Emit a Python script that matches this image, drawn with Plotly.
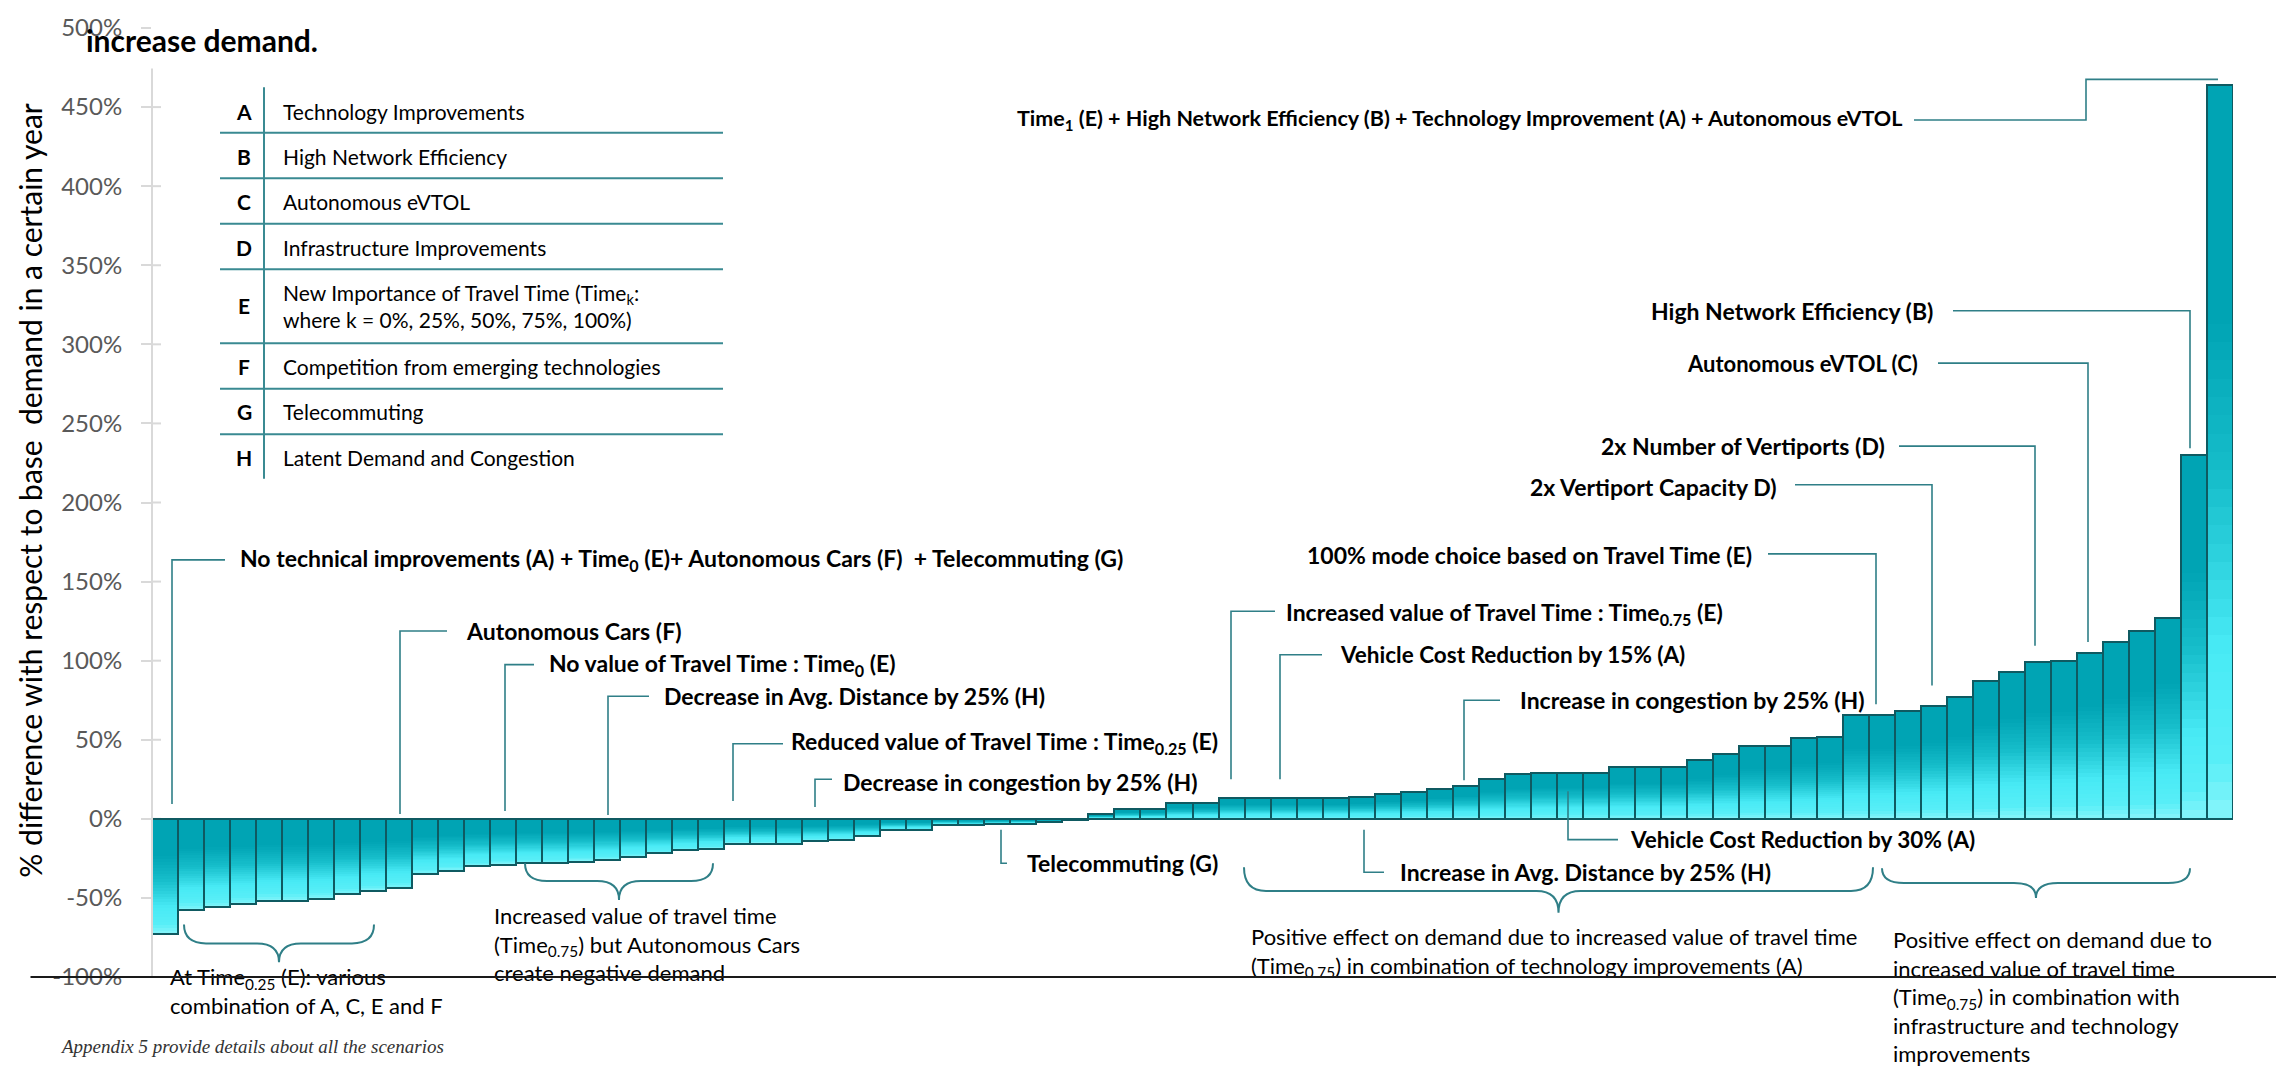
import plotly.graph_objects as go

# ---------------- data ----------------
scenario = list(range(1, 81))
values = [-72.8, -57.8, -55.7, -53.9, -51.7, -51.7, -50.7, -47.8, -45.7, -43.9,
          -34.9, -32.9, -29.9, -28.9, -27.9, -27.9, -27.0, -26.0, -23.9, -21.8,
          -20.0, -19.0, -15.6, -15.6, -15.8, -14.1, -13.1, -11.0, -6.9, -6.9,
          -3.7, -4.2, -3.4, -3.0, -2.1, -1.0, 3.1, 6.0, 6.0, 10.2,
          10.2, 13.1, 13.1, 13.1, 13.1, 13.1, 14.0, 16.0, 17.0, 18.9,
          20.9, 24.9, 28.1, 29.1, 29.1, 29.1, 32.8, 32.8, 32.8, 37.0,
          40.9, 46.3, 46.3, 50.9, 51.9, 65.8, 65.8, 68.0, 71.1, 77.1,
          87.0, 93.1, 98.9, 99.9, 104.9, 112.0, 118.8, 126.7, 230.0, 463.8]
tick_vals = [-100, -50, 0, 50, 100, 150, 200, 250, 300, 350, 400, 450, 500]
tick_text = ["-100%", "-50%", "0%", "50%", "100%", "150%", "200%", "250%",
             "300%", "350%", "400%", "450%", "500%"]
legend_keys = ["A", "B", "C", "D", "E", "F", "G", "H"]
legend_desc = ["Technology Improvements", "High Network Efficiency", "Autonomous eVTOL",
               "Infrastructure Improvements",
               "New Importance of Travel Time (Time<sub>k</sub>:<br>where k = 0%, 25%, 50%, 75%, 100%)",
               "Competition from emerging technologies", "Telecommuting",
               "Latent Demand and Congestion"]
y_title = "% difference with respect to base  demand in a certain year"

# ---------------- geometry helpers (pixels -> paper) ----------------
W, H = 2277, 1066
L, R, T, B = 152, 2233, 17, 977


def px(x):
    return (x - L) / (R - L)


def py(y):
    return (B - y) / (B - T)


FONT = "Lato, 'Open Sans', sans-serif"
LEAD = "#2F7F87"

fig = go.Figure()

# gradient bars: stacked overlay slices, dark at top -> bright cyan at bottom
stops = [(0.0, (0, 164, 180)), (0.33, (0, 164, 180)), (0.55, (23, 190, 203)),
         (0.78, (72, 234, 245)), (0.93, (88, 238, 247)), (1.0, (128, 244, 250))]


def grad(t):
    for (t0, c0), (t1, c1) in zip(stops[:-1], stops[1:]):
        if t <= t1:
            f = 0 if t1 == t0 else (t - t0) / (t1 - t0)
            c = [round(a + (b - a) * f) for a, b in zip(c0, c1)]
            return "rgb(%d,%d,%d)" % tuple(c)
    return "rgb(%d,%d,%d)" % stops[-1][1]


N = 40
for k in range(N, 0, -1):
    t = k / N
    fig.add_trace(go.Bar(
        x=scenario,
        y=[t * abs(v) for v in values],
        base=[max(v, 0) - t * abs(v) for v in values],
        width=1, marker=dict(color=grad(t), line=dict(width=0)),
        hoverinfo="skip", showlegend=False))

fig.add_trace(go.Bar(x=scenario, y=values, width=1,
                     marker=dict(color="rgba(0,0,0,0)", line=dict(color="#0F5A61", width=2)),
                     showlegend=False))

shapes = []
annotations = []


def line_path(pts, color=LEAD, width=1.6):
    d = "M " + " L ".join("%f,%f" % (px(a), py(b)) for a, b in pts)
    shapes.append(dict(type="path", path=d, xref="paper", yref="paper",
                       line=dict(color=color, width=width), layer="above"))


def brace(x0, x1, top, mid, tip, r=22, color="#2F7F87"):
    xc = (x0 + x1) / 2
    P = lambda a, b: "%f,%f" % (px(a), py(b))
    d = ("M " + P(x0, top) + " Q " + P(x0, mid) + " " + P(x0 + r, mid) +
         " L " + P(xc - r, mid) + " Q " + P(xc, mid) + " " + P(xc, tip) +
         " Q " + P(xc, mid) + " " + P(xc + r, mid) +
         " L " + P(x1 - r, mid) + " Q " + P(x1, mid) + " " + P(x1, top))
    shapes.append(dict(type="path", path=d, xref="paper", yref="paper",
                       line=dict(color=color, width=2), layer="above"))


def text(x, y, s, anchor="left", size=23, bold=True, color="black", family=FONT, align="left"):
    annotations.append(dict(x=px(x), y=py(y), xref="paper", yref="paper",
                            text=("<b>%s</b>" % s) if bold else s, showarrow=False,
                            xanchor=anchor, yanchor="middle", align=align,
                            font=dict(family=family, size=size, color=color)))


# y axis line + inner half of the crossing ticks
line_path([(152, 58), (152, 977)], color="#D9D9D9", width=2)
for tv in tick_vals[:-1]:
    shapes.append(dict(type="line", xref="paper", yref="y", x0=0, x1=px(161), y0=tv, y1=tv,
                       line=dict(color="#D9D9D9", width=2), layer="below"))

# -------- callouts (right side) --------
text(1904, 110, "Time<sub>1</sub> (E) + High Network Efficiency (B) + Technology Improvement (A) + Autonomous eVTOL", "right", size=21.5)
line_path([(1914, 110), (2086, 110), (2086, 69), (2218, 69)])
text(1935, 303, "High Network Efficiency (B)", "right")
line_path([(1953, 303), (2190, 303), (2190, 442)])
text(1920, 356, "Autonomous eVTOL (C)", "right", size=22)
line_path([(1938, 356), (2088, 356), (2088, 638)])
text(1887, 440, "2x Number of Vertiports (D)", "right")
line_path([(1899, 440), (2035, 440), (2035, 642)])
text(1779, 481, "2x Vertiport Capacity D)", "right")
line_path([(1795, 479), (1932, 479), (1932, 682)])
text(1754, 550, "100% mode choice based on Travel Time (E)", "right")
line_path([(1768, 549), (1876, 549), (1876, 701)])

# -------- callouts (middle) --------
text(1284, 609, "Increased value of Travel Time : Time<sub>0.75</sub> (E)")
line_path([(1231, 777), (1231, 607), (1275, 607)])
text(1338, 651, "Vehicle Cost Reduction by 15% (A)", size=22.5)
line_path([(1280, 777), (1280, 651), (1322, 651)])
text(1518, 697, "Increase in congestion by 25% (H)")
line_path([(1464, 778), (1464, 697), (1500, 697)])
text(1628, 838, "Vehicle Cost Reduction by 30% (A)", size=22.5)
line_path([(1568, 789), (1568, 838), (1618, 838)])
text(1398, 871, "Increase in Avg. Distance by 25% (H)")
line_path([(1364, 828), (1364, 871), (1384, 871)])
text(1025, 862, "Telecommuting (G)")
line_path([(1001, 828), (1001, 862), (1007, 862)])
text(841, 780, "Decrease in congestion by 25% (H)")
line_path([(815, 805), (815, 777), (832, 777)])
text(1220, 740, "Reduced value of Travel Time : Time<sub>0.25</sub> (E)", "right")
line_path([(733, 799), (733, 741), (783, 741)])
text(662, 693, "Decrease in Avg. Distance by 25% (H)")
line_path([(608, 813), (608, 693), (649, 693)])
text(547, 661, "No value of Travel Time : Time<sub>0</sub> (E)")
line_path([(505, 809), (505, 661), (534, 661)])
text(464, 627, "Autonomous Cars (F)")
line_path([(400, 812), (400, 627), (447, 627)])
text(238, 555, "No technical improvements (A) + Time<sub>0</sub> (E)+ Autonomous Cars (F)  + Telecommuting (G)")
line_path([(172, 802), (172, 555), (225, 555)])

# -------- braces & notes --------
brace(184, 374, 924, 943, 962)
text(168, 991, "At Time<sub>0.25</sub> (E): various<br>combination of A, C, E and F", bold=False, size=22)
brace(525, 713, 862, 880, 899)
text(492, 944, "Increased value of travel time<br>(Time<sub>0.75</sub>) but Autonomous Cars<br>create negative demand", bold=False, size=22)
brace(1244, 1873, 866, 890, 912)
text(1249, 952, "Positive effect on demand due to increased value of travel time<br>(Time<sub>0.75</sub>) in combination of technology improvements (A)", bold=False, size=22)
brace(1882, 2190, 867, 882, 897)
text(1891, 997, "Positive effect on demand due to<br>increased value of travel time<br>(Time<sub>0.75</sub>) in combination with<br>infrastructure and technology<br>improvements", bold=False, size=22)

# -------- key table --------
row_y = [101, 147, 193, 239, 298, 359, 405, 451]
for k, d, yy in zip(legend_keys, legend_desc, row_y):
    text(244, yy, k, "center", size=21)
    text(281, yy, d, bold=False, size=21)
for yy in [123, 169, 215, 261, 336, 382, 428]:
    line_path([(220, yy), (723, yy)], color="#3A8A92", width=2)
line_path([(264, 77), (264, 473)], color="#3A8A92", width=2)

# -------- titles / footnote --------
text(84, 29, "increase demand.", size=30)
annotations.append(dict(x=px(30), y=py(485), xref="paper", yref="paper", text=y_title,
                        textangle=-90, showarrow=False, xanchor="center", yanchor="middle",
                        font=dict(family=FONT, size=30, color="black")))
annotations.append(dict(x=px(58), y=py(1047), xref="paper", yref="paper",
                        text="<i>Appendix 5 provide details about all the scenarios</i>",
                        showarrow=False, xanchor="left", yanchor="middle",
                        font=dict(family="'Liberation Serif', serif", size=19, color="#333333")))

# black rule drawn last so it crosses the text
annotations.append(dict(x=px(2277), y=py(977), xref="paper", yref="paper", text="",
                        showarrow=True, ax=-(2277 - 29), ay=0, axref="pixel", ayref="pixel",
                        arrowhead=0, arrowwidth=2.2, arrowcolor="#1A1A1A",
                        standoff=0, startstandoff=0))

fig.update_layout(
    width=W, height=H,
    margin=dict(l=L, r=W - R, t=T, b=H - B, pad=0),
    paper_bgcolor="white", plot_bgcolor="white",
    barmode="overlay", bargap=0, showlegend=False,
    xaxis=dict(range=[0.5, 80.5], visible=False, fixedrange=True),
    yaxis=dict(range=[-100, 500], tickvals=tick_vals, ticktext=tick_text,
               ticks="outside", ticklen=10, tickwidth=2, tickcolor="#D9D9D9",
               showgrid=False, zeroline=False, showline=False,
               ticklabelstandoff=14,
               tickfont=dict(family=FONT, size=24, color="#595959")),
    shapes=shapes, annotations=annotations,
    font=dict(family=FONT),
)

fig.write_html("out.html", config={"displayModeBar": False},
               post_script="document.body.style.margin='0px';document.body.style.overflow='hidden';")
